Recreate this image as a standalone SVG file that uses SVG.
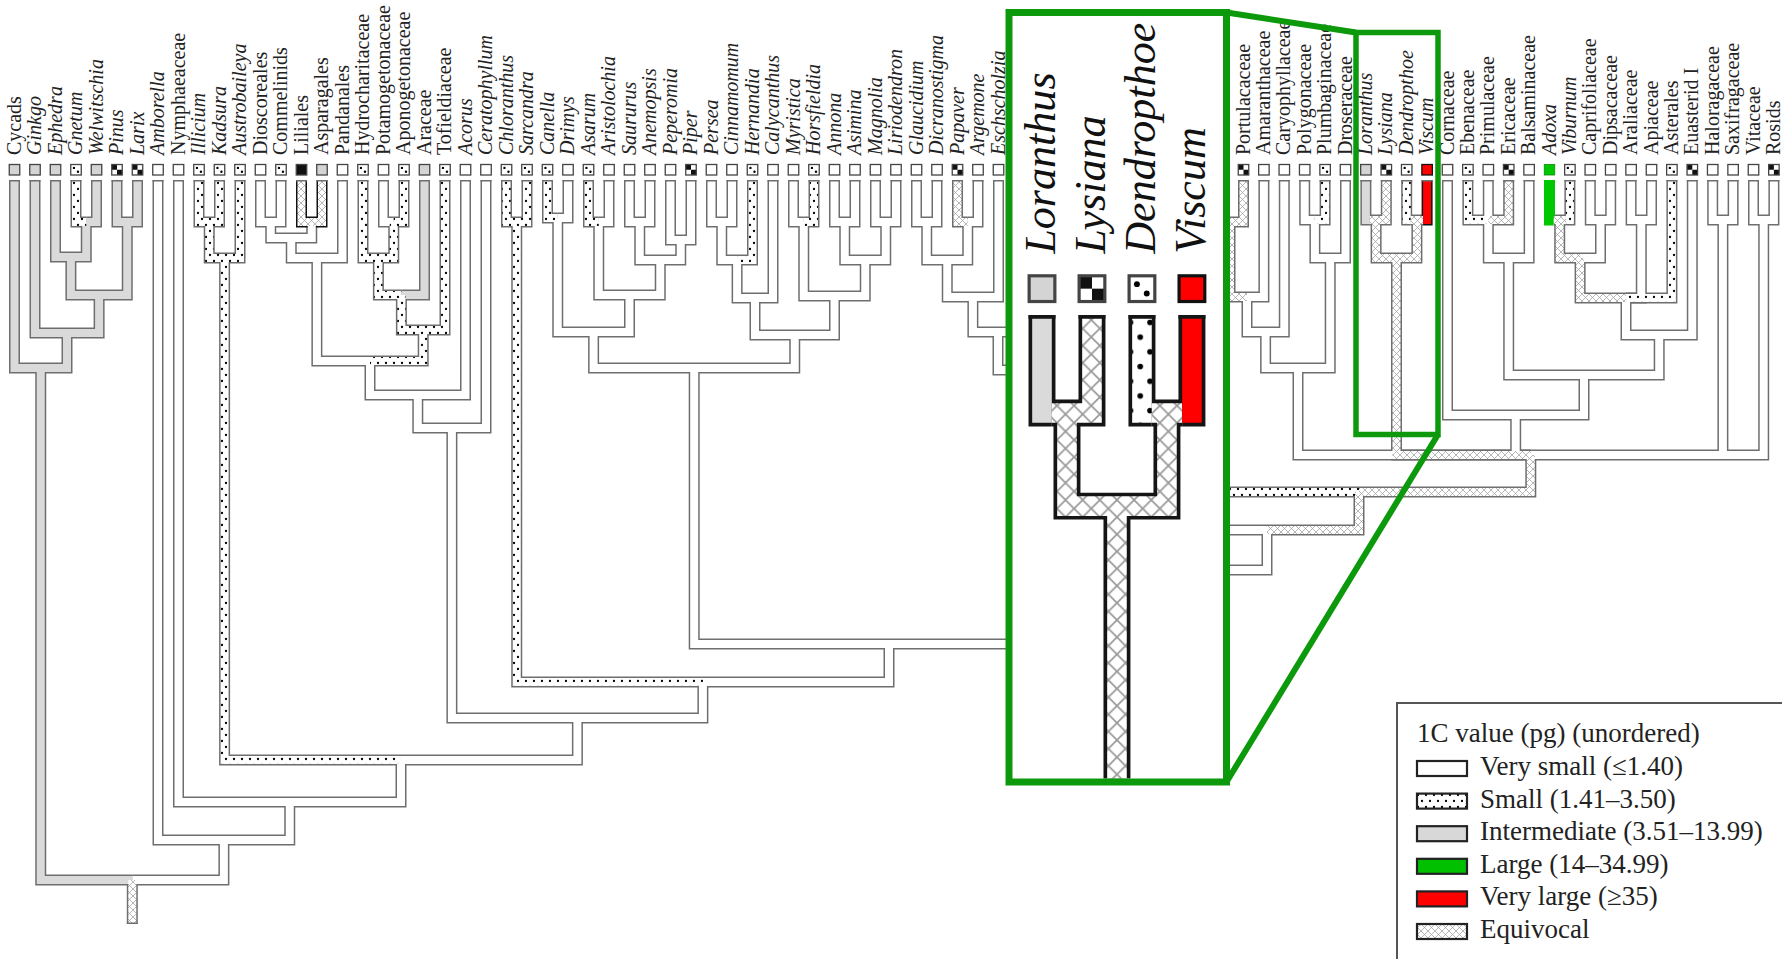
<svg xmlns="http://www.w3.org/2000/svg" xmlns:xlink="http://www.w3.org/1999/xlink" width="1782" height="959" viewBox="0 0 1782 959">
<style>
.lb{font-family:"Liberation Serif","DejaVu Serif",serif;font-size:20px;fill:#222}
.ilb{font-family:"Liberation Serif","DejaVu Serif",serif;font-size:18px;fill:#111;font-style:italic}
.it{font-style:italic}
.bxr{stroke:#444;stroke-width:1.3}
.ol{fill:none;stroke-width:11}
.fl{fill:none;stroke-width:8}
.lg{font-family:"Liberation Serif","DejaVu Serif",serif;font-size:27px;fill:#222}
.sw{stroke:#222;stroke-width:2.2}
.gr{fill:none;stroke:#0c9a0c}
</style>
<defs>
<pattern id="pd" width="8" height="12" patternUnits="userSpaceOnUse"><rect width="8" height="12" fill="#fff"/><circle cx="2" cy="3" r="1.15" fill="#000"/><circle cx="6" cy="9" r="1.15" fill="#000"/></pattern>
<pattern id="ph" width="7" height="7" patternUnits="userSpaceOnUse"><rect width="7" height="7" fill="#fff"/><path d="M0,0L7,7M7,0L0,7" stroke="#999" stroke-width="0.7"/></pattern>
<clipPath id="insetclip"><rect x="1012.5" y="16" width="210.5" height="762.5"/></clipPath>
<g id="bw"><rect width="10.5" height="10.5" class="bxr" fill="#fff"/></g>
<g id="bg"><rect width="10.5" height="10.5" class="bxr" fill="#d4d4d4"/></g>
<g id="bd"><rect width="10.5" height="10.5" class="bxr" fill="#fff"/><circle cx="3.2" cy="3.4" r="1.2" fill="#000"/><circle cx="7.2" cy="7.2" r="1.2" fill="#000"/></g>
<g id="bc"><rect width="10.5" height="10.5" fill="#fff"/><rect width="5.25" height="5.25" fill="#111"/><rect x="5.25" y="5.25" width="5.25" height="5.25" fill="#111"/><rect width="10.5" height="10.5" class="bxr" fill="none"/></g>
<g id="bk"><rect width="10.5" height="10.5" class="bxr" fill="#111"/></g>
<g id="br"><rect width="10.5" height="10.5" fill="#f00" stroke="#111" stroke-width="1.3"/></g>
<g id="bgn"><rect width="10.5" height="10.5" fill="#00c800" stroke="#0a8a0a" stroke-width="0.8"/></g>

<g id="m-grey" fill="none"><path d="M14.5,180V368H40.75M35,180V333H67M55.5,180V257H70.9M96.5,180V222H86.25M117,180V222H127.25M137.5,180V222H127.25M86.25,222V257H70.9M70.9,257V295H99.1M127.25,222V295H99.1M99.1,295V333H67M67,333V368H40.75M40.75,368V880H132.3M424.5,180V295H401.4"/></g>
<g id="m-dot" fill="none"><path d="M76,180V222H86.25M199,180V222H209.25M219.5,180V222H209.25M240,180V258H224.6M209.25,222V258H224.6M224.6,258V760H401M363,180V258H378.4M404,180V222H393.75M393.75,222V258H378.4M378.4,258V295H401.4M401.4,295V330H423.2M445,180V330H423.2M423.2,330V361H370M506.5,180V222H516.75M527,180V222H516.75M516.75,222V682H702.9M547.5,180V218H557.75M588.5,180V222H598.75M752.5,180V260H737.1M814,180V222H803.75M1325.1,180V220H1314.9M1467.9,180V220H1488.3M1569.9,180V220H1565.9M1671.9,180V298H1626M1190,400V492H1359"/></g>
<g id="m-hatch" fill="none"><path d="M132.3,880V924M957.5,180V222H967.75M1243.5,180V222H1230M1230,222V297H1247M1508.7,180V220H1488.3M1553.5,220H1565.9M1559.7,220V258H1580.1M1580.1,258V298H1626M1530.8,455V492H1359M1359,492V530H1267"/></g>
<g id="m-hatchB" fill="none"><path d="M301.5,180V222H311.75M322,180V222H311.75"/></g>
<g id="m-green" fill="none"><path d="M1549.5,180V220H1553.5"/></g>
<g id="m-white" fill="none"><path d="M158,180V840H223.9M178.5,180V802H289.75M260.5,180V222H270.75M281,180V222H270.75M270.75,222V238H291.25M311.75,222V238H291.25M291.25,238V258H316.9M342.5,180V258H316.9M316.9,258V361H370M383.5,180V222H393.75M370,361V395H417.8M465.5,180V395H417.8M417.8,395V428H451.9M486,180V428H451.9M451.9,428V718H577.4M568,180V218H557.75M557.75,218V332H593.6M609,180V222H598.75M598.75,222V295H629.5M629.5,180V222H639.75M650,180V222H639.75M639.75,222V260H660.25M670.5,180V240H680.75M691,180V240H680.75M680.75,240V260H660.25M660.25,260V295H629.5M629.5,295V332H593.6M593.6,332V368H694.2M711.5,180V222H721.75M732,180V222H721.75M721.75,222V260H737.1M737.1,260V298H755M773,180V298H755M755,298V335H794.75M793.5,180V222H803.75M803.75,222V296H834.5M834.5,180V222H844.75M855,180V222H844.75M844.75,222V260H865.25M875.5,180V222H885.75M896,180V222H885.75M885.75,222V260H865.25M865.25,260V296H834.5M834.5,296V335H794.75M794.75,335V368H694.2M694.2,368V644H889M1083.8,400V644H889M889,644V682H702.9M702.9,682V718H577.4M577.4,718V760H401M401,760V802H289.75M289.75,802V840H223.9M223.9,840V880H132.3M916.5,180V222H926.75M937,180V222H926.75M978,180V222H967.75M926.75,222V260H947.25M967.75,222V260H947.25M947.25,260V297H972.9M998.5,180V297H972.9M972.9,297V332H998M1023,200V332H998M998,332V370H1060M1216,200V222H1230M1263.9,180V297H1247M1247,297V332H1265.6M1284.3,180V332H1265.6M1265.6,332V368H1298M1304.7,180V220H1314.9M1314.9,220V258H1330.2M1345.5,180V258H1330.2M1330.2,258V368H1298M1298,368V455H1530.8M1447.5,180V415H1515.7M1488.3,180V220M1488.3,220V258H1508.7M1529.1,180V258H1508.7M1508.7,258V375H1584M1590.3,180V220H1600.5M1610.7,180V220H1600.5M1600.5,220V258H1580.1M1631.1,180V220H1641.3M1651.5,180V220H1641.3M1641.3,220V298H1626M1626,298V335H1659.2M1692.3,180V335H1659.2M1659.2,335V375H1584M1584,375V415H1515.7M1515.7,415V455H1530.8M1712.7,180V220H1722.9M1733.1,180V220H1722.9M1722.9,220V455H1530.8M1753.5,180V220H1763.7M1773.9,180V220H1763.7M1763.7,220V455H1530.8M1190,420V530H1267M1267,530V570H1190"/></g>
<g id="s-grey" fill="none"><path d="M1365.9,180V220H1369.9"/></g>
<g id="s-hatch" fill="none"><path d="M1386.3,180V220H1369.9M1376.1,220V258H1396.5M1410.7,220H1423.1M1416.9,220V258H1396.5M1396.5,258V455H1530.8"/></g>
<g id="s-dot" fill="none"><path d="M1406.7,180V220H1410.7"/></g>
<g id="s-red" fill="none"><path d="M1427.1,180V220H1423.1"/></g>
</defs>

<rect width="1782" height="959" fill="#fff"/>

<g id="connectors">
<g class="ol" stroke="#6e6e6e"><use href="#m-white"/><use href="#m-grey"/><use href="#m-dot"/><use href="#m-hatch"/><use href="#s-grey"/><use href="#s-hatch"/><use href="#s-dot"/></g>
<g class="ol" stroke="#111"><use href="#m-hatchB"/><use href="#s-red"/></g>
<g class="ol" stroke="#00c800"><use href="#m-green"/></g>
<g class="fl">
<use href="#m-white" stroke="#fff"/>
<use href="#m-grey" stroke="#dadada"/><use href="#s-grey" stroke="#dadada"/>
<use href="#m-dot" stroke="url(#pd)"/><use href="#s-dot" stroke="url(#pd)"/>
<use href="#m-hatch" stroke="url(#ph)"/><use href="#m-hatchB" stroke="url(#ph)"/><use href="#s-hatch" stroke="url(#ph)"/>
<use href="#m-green" stroke="#00c800"/><use href="#s-red" stroke="#f00"/>
</g>
<path stroke="#6e6e6e" stroke-width="1.5" fill="none" d="M9,180.75h11M29.5,180.75h11M50,180.75h11M70.5,180.75h11M91,180.75h11M111.5,180.75h11M132,180.75h11M152.5,180.75h11M173,180.75h11M193.5,180.75h11M214,180.75h11M234.5,180.75h11M255,180.75h11M275.5,180.75h11M296,180.75h11M316.5,180.75h11M337,180.75h11M357.5,180.75h11M378,180.75h11M398.5,180.75h11M419,180.75h11M439.5,180.75h11M460,180.75h11M480.5,180.75h11M501,180.75h11M521.5,180.75h11M542,180.75h11M562.5,180.75h11M583,180.75h11M603.5,180.75h11M624,180.75h11M644.5,180.75h11M665,180.75h11M685.5,180.75h11M706,180.75h11M726.5,180.75h11M747,180.75h11M767.5,180.75h11M788,180.75h11M808.5,180.75h11M829,180.75h11M849.5,180.75h11M870,180.75h11M890.5,180.75h11M911,180.75h11M931.5,180.75h11M952,180.75h11M972.5,180.75h11M993,180.75h11M1238,180.75h11M1258.4,180.75h11M1278.8,180.75h11M1299.2,180.75h11M1319.6,180.75h11M1340,180.75h11M1360.4,180.75h11M1380.8,180.75h11M1401.2,180.75h11M1421.6,180.75h11M1442,180.75h11M1462.4,180.75h11M1482.8,180.75h11M1503.2,180.75h11M1523.6,180.75h11M1564.4,180.75h11M1584.8,180.75h11M1605.2,180.75h11M1625.6,180.75h11M1646,180.75h11M1666.4,180.75h11M1686.8,180.75h11M1707.2,180.75h11M1727.6,180.75h11M1748,180.75h11M1768.4,180.75h11M126.8,923.25h11"/>
</g>

<g id="taxa">
<g id="t-cycads"><use href="#bg" x="9.25" y="164.5"/><text class="lb" transform="translate(20.5 155)rotate(-90)">Cycads</text></g>
<g id="t-ginkgo"><use href="#bg" x="29.75" y="164.5"/><text class="lb it" transform="translate(41 155)rotate(-90)">Ginkgo</text></g>
<g id="t-ephedra"><use href="#bg" x="50.25" y="164.5"/><text class="lb it" transform="translate(61.5 155)rotate(-90)">Ephedra</text></g>
<g id="t-gnetum"><use href="#bd" x="70.75" y="164.5"/><text class="lb it" transform="translate(82 155)rotate(-90)">Gnetum</text></g>
<g id="t-welwitschia"><use href="#bg" x="91.25" y="164.5"/><text class="lb it" transform="translate(102.5 155)rotate(-90)">Welwitschia</text></g>
<g id="t-pinus"><use href="#bc" x="111.75" y="164.5"/><text class="lb it" transform="translate(123 155)rotate(-90)">Pinus</text></g>
<g id="t-larix"><use href="#bc" x="132.25" y="164.5"/><text class="lb it" transform="translate(143.5 155)rotate(-90)">Larix</text></g>
<g id="t-amborella"><use href="#bw" x="152.75" y="164.5"/><text class="lb it" transform="translate(164 155)rotate(-90)">Amborella</text></g>
<g id="t-nymphaeaceae"><use href="#bw" x="173.25" y="164.5"/><text class="lb" transform="translate(184.5 155)rotate(-90)">Nymphaeaceae</text></g>
<g id="t-illicium"><use href="#bd" x="193.75" y="164.5"/><text class="lb it" transform="translate(205 155)rotate(-90)">Illicium</text></g>
<g id="t-kadsura"><use href="#bd" x="214.25" y="164.5"/><text class="lb it" transform="translate(225.5 155)rotate(-90)">Kadsura</text></g>
<g id="t-austrobaileya"><use href="#bd" x="234.75" y="164.5"/><text class="lb it" transform="translate(246 155)rotate(-90)">Austrobaileya</text></g>
<g id="t-dioscoreales"><use href="#bw" x="255.25" y="164.5"/><text class="lb" transform="translate(266.5 155)rotate(-90)">Dioscoreales</text></g>
<g id="t-commelinids"><use href="#bd" x="275.75" y="164.5"/><text class="lb" transform="translate(287 155)rotate(-90)">Commelinids</text></g>
<g id="t-liliales"><use href="#bk" x="296.25" y="164.5"/><text class="lb" transform="translate(307.5 155)rotate(-90)">Liliales</text></g>
<g id="t-asparagales"><use href="#bg" x="316.75" y="164.5"/><text class="lb" transform="translate(328 155)rotate(-90)">Asparagales</text></g>
<g id="t-pandanales"><use href="#bw" x="337.25" y="164.5"/><text class="lb" transform="translate(348.5 155)rotate(-90)">Pandanales</text></g>
<g id="t-hydrocharitaceae"><use href="#bd" x="357.75" y="164.5"/><text class="lb" transform="translate(369 155)rotate(-90)">Hydrocharitaceae</text></g>
<g id="t-potamogetonaceae"><use href="#bw" x="378.25" y="164.5"/><text class="lb" transform="translate(389.5 155)rotate(-90)">Potamogetonaceae</text></g>
<g id="t-aponogetonaceae"><use href="#bd" x="398.75" y="164.5"/><text class="lb" transform="translate(410 155)rotate(-90)">Aponogetonaceae</text></g>
<g id="t-araceae"><use href="#bg" x="419.25" y="164.5"/><text class="lb" transform="translate(430.5 155)rotate(-90)">Araceae</text></g>
<g id="t-tofieldiaceae"><use href="#bd" x="439.75" y="164.5"/><text class="lb" transform="translate(451 155)rotate(-90)">Tofieldiaceae</text></g>
<g id="t-acorus"><use href="#bw" x="460.25" y="164.5"/><text class="lb it" transform="translate(471.5 155)rotate(-90)">Acorus</text></g>
<g id="t-ceratophyllum"><use href="#bw" x="480.75" y="164.5"/><text class="lb it" transform="translate(492 155)rotate(-90)">Ceratophyllum</text></g>
<g id="t-chloranthus"><use href="#bd" x="501.25" y="164.5"/><text class="lb it" transform="translate(512.5 155)rotate(-90)">Chloranthus</text></g>
<g id="t-sarcandra"><use href="#bd" x="521.75" y="164.5"/><text class="lb it" transform="translate(533 155)rotate(-90)">Sarcandra</text></g>
<g id="t-canella"><use href="#bd" x="542.25" y="164.5"/><text class="lb it" transform="translate(553.5 155)rotate(-90)">Canella</text></g>
<g id="t-drimys"><use href="#bw" x="562.75" y="164.5"/><text class="lb it" transform="translate(574 155)rotate(-90)">Drimys</text></g>
<g id="t-asarum"><use href="#bd" x="583.25" y="164.5"/><text class="lb it" transform="translate(594.5 155)rotate(-90)">Asarum</text></g>
<g id="t-aristolochia"><use href="#bw" x="603.75" y="164.5"/><text class="lb it" transform="translate(615 155)rotate(-90)">Aristolochia</text></g>
<g id="t-saururus"><use href="#bw" x="624.25" y="164.5"/><text class="lb it" transform="translate(635.5 155)rotate(-90)">Saururus</text></g>
<g id="t-anemopsis"><use href="#bw" x="644.75" y="164.5"/><text class="lb it" transform="translate(656 155)rotate(-90)">Anemopsis</text></g>
<g id="t-peperomia"><use href="#bw" x="665.25" y="164.5"/><text class="lb it" transform="translate(676.5 155)rotate(-90)">Peperomia</text></g>
<g id="t-piper"><use href="#bc" x="685.75" y="164.5"/><text class="lb it" transform="translate(697 155)rotate(-90)">Piper</text></g>
<g id="t-persea"><use href="#bw" x="706.25" y="164.5"/><text class="lb it" transform="translate(717.5 155)rotate(-90)">Persea</text></g>
<g id="t-cinnamomum"><use href="#bw" x="726.75" y="164.5"/><text class="lb it" transform="translate(738 155)rotate(-90)">Cinnamomum</text></g>
<g id="t-hernandia"><use href="#bd" x="747.25" y="164.5"/><text class="lb it" transform="translate(758.5 155)rotate(-90)">Hernandia</text></g>
<g id="t-calycanthus"><use href="#bw" x="767.75" y="164.5"/><text class="lb it" transform="translate(779 155)rotate(-90)">Calycanthus</text></g>
<g id="t-myristica"><use href="#bw" x="788.25" y="164.5"/><text class="lb it" transform="translate(799.5 155)rotate(-90)">Myristica</text></g>
<g id="t-horsfieldia"><use href="#bd" x="808.75" y="164.5"/><text class="lb it" transform="translate(820 155)rotate(-90)">Horsfieldia</text></g>
<g id="t-annona"><use href="#bw" x="829.25" y="164.5"/><text class="lb it" transform="translate(840.5 155)rotate(-90)">Annona</text></g>
<g id="t-asimina"><use href="#bw" x="849.75" y="164.5"/><text class="lb it" transform="translate(861 155)rotate(-90)">Asimina</text></g>
<g id="t-magnolia"><use href="#bw" x="870.25" y="164.5"/><text class="lb it" transform="translate(881.5 155)rotate(-90)">Magnolia</text></g>
<g id="t-liriodendron"><use href="#bw" x="890.75" y="164.5"/><text class="lb it" transform="translate(902 155)rotate(-90)">Liriodendron</text></g>
<g id="t-glaucidium"><use href="#bw" x="911.25" y="164.5"/><text class="lb it" transform="translate(922.5 155)rotate(-90)">Glaucidium</text></g>
<g id="t-dicranostigma"><use href="#bw" x="931.75" y="164.5"/><text class="lb it" transform="translate(943 155)rotate(-90)">Dicranostigma</text></g>
<g id="t-papaver"><use href="#bc" x="952.25" y="164.5"/><text class="lb it" transform="translate(963.5 155)rotate(-90)">Papaver</text></g>
<g id="t-argemone"><use href="#bw" x="972.75" y="164.5"/><text class="lb it" transform="translate(984 155)rotate(-90)">Argemone</text></g>
<g id="t-eschscholzia"><use href="#bw" x="993.25" y="164.5"/><text class="lb it" transform="translate(1004.5 155)rotate(-90)">Eschscholzia</text></g>

<g id="t-portulacaceae"><use href="#bc" x="1238.25" y="164.5"/><text class="lb" transform="translate(1249.5 155)rotate(-90)">Portulacaceae</text></g>
<g id="t-amaranthaceae"><use href="#bw" x="1258.65" y="164.5"/><text class="lb" transform="translate(1269.9 155)rotate(-90)">Amaranthaceae</text></g>
<g id="t-caryophyllaceae"><use href="#bw" x="1279.05" y="164.5"/><text class="lb" transform="translate(1290.3 155)rotate(-90)">Caryophyllaceae</text></g>
<g id="t-polygonaceae"><use href="#bw" x="1299.45" y="164.5"/><text class="lb" transform="translate(1310.7 155)rotate(-90)">Polygonaceae</text></g>
<g id="t-plumbaginaceae"><use href="#bd" x="1319.85" y="164.5"/><text class="lb" transform="translate(1331.1 155)rotate(-90)">Plumbaginaceae</text></g>
<g id="t-droseraceae"><use href="#bw" x="1340.25" y="164.5"/><text class="lb" transform="translate(1351.5 155)rotate(-90)">Droseraceae</text></g>
<g id="t-loranthus"><use href="#bg" x="1360.65" y="164.5"/><text class="lb it" transform="translate(1371.9 155)rotate(-90)">Loranthus</text></g>
<g id="t-lysiana"><use href="#bc" x="1381.05" y="164.5"/><text class="lb it" transform="translate(1392.3 155)rotate(-90)">Lysiana</text></g>
<g id="t-dendropthoe"><use href="#bd" x="1401.45" y="164.5"/><text class="lb it" transform="translate(1412.7 155)rotate(-90)">Dendropthoe</text></g>
<g id="t-viscum"><use href="#br" x="1421.85" y="164.5"/><text class="lb it" transform="translate(1433.1 155)rotate(-90)">Viscum</text></g>
<g id="t-cornaceae"><use href="#bw" x="1442.25" y="164.5"/><text class="lb" transform="translate(1453.5 155)rotate(-90)">Cornaceae</text></g>
<g id="t-ebenaceae"><use href="#bd" x="1462.65" y="164.5"/><text class="lb" transform="translate(1473.9 155)rotate(-90)">Ebenaceae</text></g>
<g id="t-primulaceae"><use href="#bw" x="1483.05" y="164.5"/><text class="lb" transform="translate(1494.3 155)rotate(-90)">Primulaceae</text></g>
<g id="t-ericaceae"><use href="#bc" x="1503.45" y="164.5"/><text class="lb" transform="translate(1514.7 155)rotate(-90)">Ericaceae</text></g>
<g id="t-balsaminaceae"><use href="#bw" x="1523.85" y="164.5"/><text class="lb" transform="translate(1535.1 155)rotate(-90)">Balsaminaceae</text></g>
<g id="t-adoxa"><use href="#bgn" x="1544.25" y="164.5"/><text class="lb it" transform="translate(1555.5 155)rotate(-90)">Adoxa</text></g>
<g id="t-viburnum"><use href="#bd" x="1564.65" y="164.5"/><text class="lb it" transform="translate(1575.9 155)rotate(-90)">Viburnum</text></g>
<g id="t-caprifoliaceae"><use href="#bw" x="1585.05" y="164.5"/><text class="lb" transform="translate(1596.3 155)rotate(-90)">Caprifoliaceae</text></g>
<g id="t-dipsacaceae"><use href="#bw" x="1605.45" y="164.5"/><text class="lb" transform="translate(1616.7 155)rotate(-90)">Dipsacaceae</text></g>
<g id="t-araliaceae"><use href="#bw" x="1625.85" y="164.5"/><text class="lb" transform="translate(1637.1 155)rotate(-90)">Araliaceae</text></g>
<g id="t-apiaceae"><use href="#bw" x="1646.25" y="164.5"/><text class="lb" transform="translate(1657.5 155)rotate(-90)">Apiaceae</text></g>
<g id="t-asterales"><use href="#bd" x="1666.65" y="164.5"/><text class="lb" transform="translate(1677.9 155)rotate(-90)">Asterales</text></g>
<g id="t-euasterid1"><use href="#bc" x="1687.05" y="164.5"/><text class="lb" transform="translate(1698.3 155)rotate(-90)">Euasterid I</text></g>
<g id="t-haloragaceae"><use href="#bw" x="1707.45" y="164.5"/><text class="lb" transform="translate(1718.7 155)rotate(-90)">Haloragaceae</text></g>
<g id="t-saxifragaceae"><use href="#bw" x="1727.85" y="164.5"/><text class="lb" transform="translate(1739.1 155)rotate(-90)">Saxifragaceae</text></g>
<g id="t-vitaceae"><use href="#bw" x="1748.25" y="164.5"/><text class="lb" transform="translate(1759.5 155)rotate(-90)">Vitaceae</text></g>
<g id="t-rosids"><use href="#bc" x="1768.65" y="164.5"/><text class="lb" transform="translate(1779.9 155)rotate(-90)">Rosids</text></g>
</g>

<g id="inset">
<rect x="1009" y="12.5" width="217.5" height="769.5" fill="#fff"/>
<g clip-path="url(#insetclip)">
<g transform="matrix(2.45 0 0 2.45 -2304.46 -126)">
<g class="ol" stroke="#151515"><use href="#s-grey"/><use href="#s-hatch"/><use href="#s-dot"/><use href="#s-red"/></g>
<g class="fl"><use href="#s-grey" stroke="#dadada"/><use href="#s-dot" stroke="url(#pd)"/><use href="#s-hatch" stroke="url(#ph)"/><use href="#s-red" stroke="#f00"/></g>
<path stroke="#151515" stroke-width="1.5" fill="none" d="M1360.4,180.75h11M1380.8,180.75h11M1401.2,180.75h11M1421.6,180.75h11"/>
<use href="#bg" x="1360.65" y="164"/><use href="#bc" x="1381.05" y="164"/><use href="#bd" x="1401.45" y="164"/><use href="#br" x="1421.85" y="164"/>
<text class="ilb" transform="translate(1371.4 155)rotate(-90)">Loranthus</text>
<text class="ilb" transform="translate(1391.8 155)rotate(-90)">Lysiana</text>
<text class="ilb" transform="translate(1412.2 155)rotate(-90)">Dendropthoe</text>
<text class="ilb" transform="translate(1432.6 155)rotate(-90)">Viscum</text>
</g>
</g>
<rect class="gr" x="1009" y="12.5" width="217.5" height="769.5" stroke-width="7"/>
<rect class="gr" x="1356" y="32.5" width="82" height="402" stroke-width="5.5"/>
<path class="gr" stroke-width="6" d="M1226.5,12.5L1356,32.5M1226.5,782L1438,434.5"/>
</g>

<g id="legend">
<rect x="1397" y="703" width="400" height="270" fill="#fff" stroke="#555" stroke-width="2"/>
<text class="lg" x="1417" y="742">1C value (pg) (unordered)</text>
<rect class="sw" x="1417" y="761" width="50" height="15" fill="#fff"/><text class="lg" x="1480" y="775">Very small (≤1.40)</text>
<rect class="sw" x="1417" y="793.6" width="50" height="15" fill="url(#pd)"/><text class="lg" x="1480" y="807.6">Small (1.41–3.50)</text>
<rect class="sw" x="1417" y="826.2" width="50" height="15" fill="#d8d8d8"/><text class="lg" x="1480" y="840.2">Intermediate (3.51–13.99)</text>
<rect class="sw" x="1417" y="858.8" width="50" height="15" fill="#00c000"/><text class="lg" x="1480" y="872.8">Large (14–34.99)</text>
<rect class="sw" x="1417" y="891.4" width="50" height="15" fill="#f00"/><text class="lg" x="1480" y="905.4">Very large (≥35)</text>
<rect class="sw" x="1417" y="924" width="50" height="15" fill="url(#ph)"/><text class="lg" x="1480" y="938">Equivocal</text>
</g>
</svg>
